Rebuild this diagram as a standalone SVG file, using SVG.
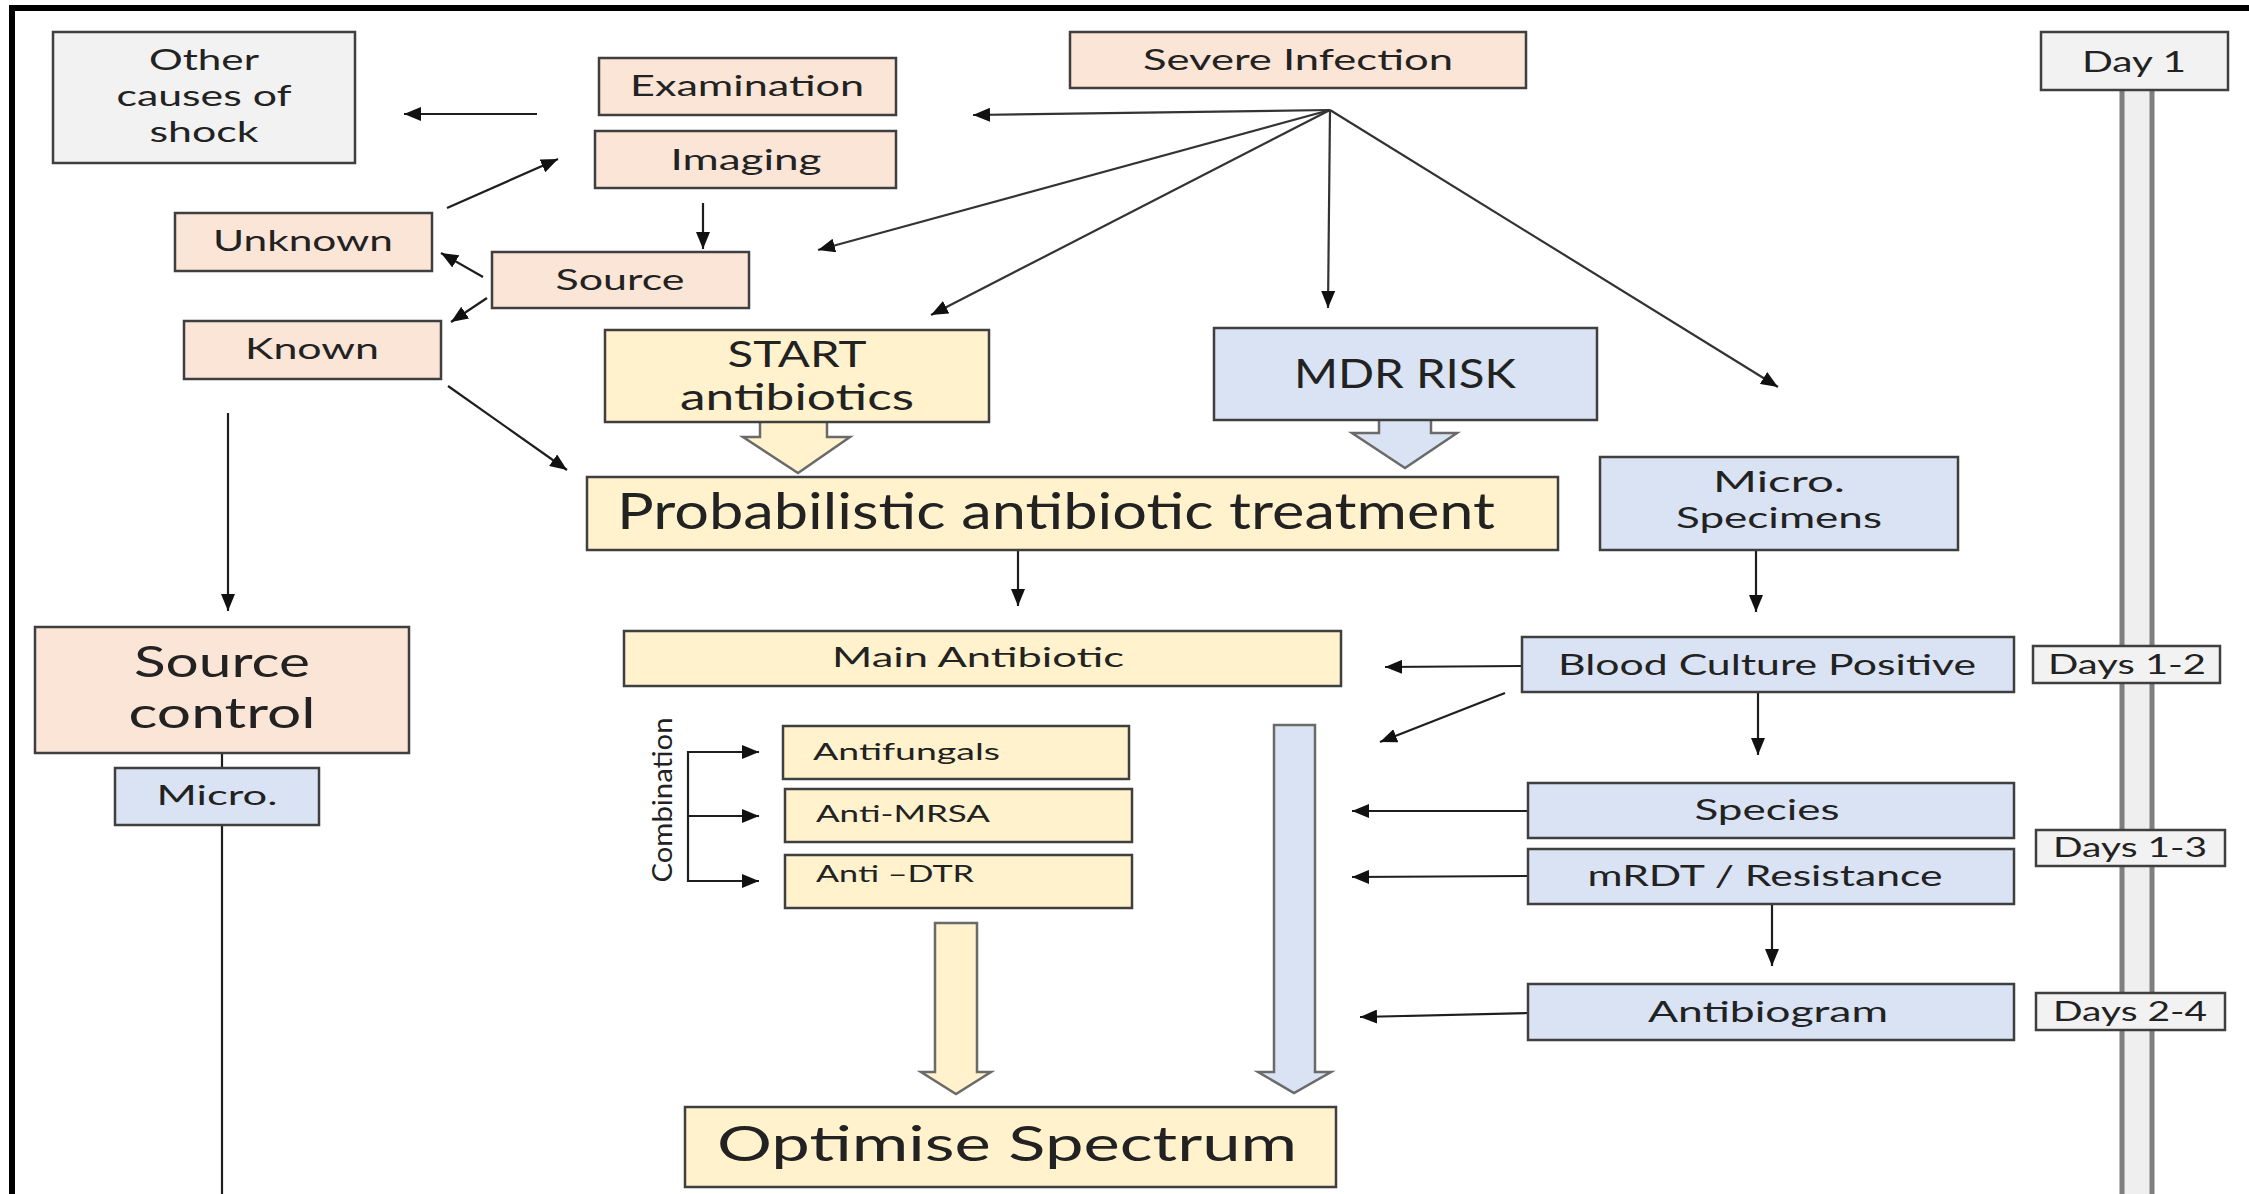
<svg xmlns="http://www.w3.org/2000/svg" width="2249" height="1194" viewBox="0 0 2249 1194">
<style>
.bx{stroke:#3f3f3f;stroke-width:2.5}
.pe{fill:#fbe5d6}.ye{fill:#fff2cc}.bl{fill:#dae3f3}.gr{fill:#f2f2f2}
text{font-family:Lato,"Open Sans","Liberation Sans",sans-serif;fill:#222;text-anchor:middle}
.c{stroke:#1e1e1e;stroke-width:2.2;fill:none;marker-end:url(#ah)}
.h{stroke:#333;stroke-width:2.2;fill:none;marker-end:url(#ah)}
.ln{stroke:#1e1e1e;stroke-width:2.2;fill:none}
.ba{stroke:#6a6a6a;stroke-width:2.5}
</style>
<defs>
<marker id="ah" markerUnits="userSpaceOnUse" markerWidth="18" markerHeight="14" refX="17" refY="7" orient="auto">
<path d="M0,0 L17,7 L0,14 z" fill="#111"/>
</marker>
</defs>
<rect width="2249" height="1194" fill="#ffffff"/>
<path d="M12,1194 V8 H2249" fill="none" stroke="#000" stroke-width="6"/>

<g id="timeline">
<rect x="2122" y="88" width="30" height="1110" fill="#efefef" stroke="#7f7f7f" stroke-width="5"/>
</g>

<g id="connectors">
<line class="c" x1="537" y1="114" x2="404" y2="114"/>
<line class="c" x1="447" y1="208" x2="558" y2="159"/>
<line class="c" x1="703" y1="203" x2="703" y2="249"/>
<line class="c" x1="483" y1="277" x2="441" y2="253"/>
<line class="c" x1="487" y1="298" x2="451" y2="322"/>
<line class="c" x1="448" y1="386" x2="567" y2="470"/>
<line class="c" x1="228" y1="413" x2="228" y2="611"/>
<line class="ln" x1="222" y1="753" x2="222" y2="768"/>
<line class="ln" x1="222" y1="825" x2="222" y2="1194"/>
<line class="h" x1="1330" y1="110" x2="973" y2="115"/>
<line class="h" x1="1330" y1="110" x2="818" y2="250"/>
<line class="h" x1="1330" y1="110" x2="931" y2="315"/>
<line class="h" x1="1330" y1="110" x2="1328" y2="308"/>
<line class="h" x1="1330" y1="110" x2="1778" y2="387"/>
<line class="c" x1="1018" y1="551" x2="1018" y2="606"/>
<line class="c" x1="1756" y1="550" x2="1756" y2="612"/>
<line class="c" x1="1522" y1="666" x2="1385" y2="667"/>
<line class="c" x1="1505" y1="693" x2="1380" y2="742"/>
<line class="c" x1="1758" y1="692" x2="1758" y2="755"/>
<line class="c" x1="1528" y1="811" x2="1352" y2="811"/>
<line class="c" x1="1528" y1="876" x2="1352" y2="877"/>
<line class="c" x1="1772" y1="904" x2="1772" y2="966"/>
<line class="c" x1="1528" y1="1013" x2="1360" y2="1017"/>
<line class="ln" x1="688" y1="751" x2="688" y2="882"/>
<line class="c" x1="687" y1="752" x2="759" y2="752"/>
<line class="c" x1="687" y1="816" x2="759" y2="816"/>
<line class="c" x1="687" y1="881" x2="759" y2="881"/>
</g>

<g id="block-arrows">
<polygon class="ba ye" points="760,412 760,437 743,437 798,473 850,437 827,437 827,412"/>
<polygon class="ba bl" points="1379,412 1379,433 1352,433 1405,468 1457,433 1431,433 1431,412"/>
<polygon class="ba ye" points="935,923 977,923 977,1072 991,1072 956,1094 921,1072 935,1072"/>
<polygon class="ba bl" points="1274,725 1315,725 1315,1072 1331,1072 1294,1093 1258,1072 1274,1072"/>
</g>

<g id="other-causes"><rect class="bx gr" x="53" y="32" width="302" height="131"/>
<text x="204" y="70" font-size="29" textLength="110" lengthAdjust="spacingAndGlyphs">Other</text>
<text x="204" y="106" font-size="29" textLength="175" lengthAdjust="spacingAndGlyphs">causes of</text>
<text x="204" y="142" font-size="29" textLength="109" lengthAdjust="spacingAndGlyphs">shock</text></g>

<g id="examination"><rect class="bx pe" x="599" y="58" width="297" height="57"/>
<text x="747" y="96" font-size="28" textLength="234" lengthAdjust="spacingAndGlyphs">Examination</text></g>

<g id="imaging"><rect class="bx pe" x="595" y="131" width="301" height="57"/>
<text x="746" y="170" font-size="28" textLength="151" lengthAdjust="spacingAndGlyphs">Imaging</text></g>

<g id="severe-infection"><rect class="bx pe" x="1070" y="32" width="456" height="56"/>
<text x="1298" y="70" font-size="28" textLength="310" lengthAdjust="spacingAndGlyphs">Severe Infection</text></g>

<g id="day1"><rect class="bx gr" x="2041" y="32" width="187" height="58"/>
<text x="2134" y="72" font-size="28" textLength="104" lengthAdjust="spacingAndGlyphs">Day 1</text></g>

<g id="unknown"><rect class="bx pe" x="175" y="213" width="257" height="58"/>
<text x="303" y="251" font-size="28" textLength="180" lengthAdjust="spacingAndGlyphs">Unknown</text></g>

<g id="source"><rect class="bx pe" x="492" y="252" width="257" height="56"/>
<text x="620" y="290" font-size="28" textLength="129" lengthAdjust="spacingAndGlyphs">Source</text></g>

<g id="known"><rect class="bx pe" x="184" y="321" width="257" height="58"/>
<text x="312" y="359" font-size="28" textLength="134" lengthAdjust="spacingAndGlyphs">Known</text></g>

<g id="start-antibiotics"><rect class="bx ye" x="605" y="330" width="384" height="92"/>
<text x="797" y="367" font-size="36" textLength="139" lengthAdjust="spacingAndGlyphs">START</text>
<text x="797" y="410" font-size="36" textLength="234" lengthAdjust="spacingAndGlyphs">antibiotics</text></g>

<g id="mdr-risk"><rect class="bx bl" x="1214" y="328" width="383" height="92"/>
<text x="1405" y="388" font-size="40" textLength="222" lengthAdjust="spacingAndGlyphs">MDR RISK</text></g>

<g id="probabilistic"><rect class="bx ye" x="587" y="477" width="971" height="73"/>
<text x="1056" y="529" font-size="50" textLength="878" lengthAdjust="spacingAndGlyphs">Probabilistic antibiotic treatment</text></g>

<g id="micro-specimens"><rect class="bx bl" x="1600" y="457" width="358" height="93"/>
<text x="1779" y="492" font-size="28" textLength="132" lengthAdjust="spacingAndGlyphs">Micro.</text>
<text x="1779" y="528" font-size="28" textLength="206" lengthAdjust="spacingAndGlyphs">Specimens</text></g>

<g id="source-control"><rect class="bx pe" x="35" y="627" width="374" height="126"/>
<text x="222" y="677" font-size="42" textLength="176" lengthAdjust="spacingAndGlyphs">Source</text>
<text x="222" y="728" font-size="42" textLength="187" lengthAdjust="spacingAndGlyphs">control</text></g>

<g id="micro-left"><rect class="bx bl" x="115" y="768" width="204" height="57"/>
<text x="217" y="805" font-size="26" textLength="121" lengthAdjust="spacingAndGlyphs">Micro.</text></g>

<g id="main-antibiotic"><rect class="bx ye" x="624" y="631" width="717" height="55"/>
<text x="978" y="667" font-size="26" textLength="292" lengthAdjust="spacingAndGlyphs">Main Antibiotic</text></g>

<g id="blood-culture"><rect class="bx bl" x="1522" y="637" width="492" height="55"/>
<text x="1767" y="675" font-size="28" textLength="418" lengthAdjust="spacingAndGlyphs">Blood Culture Positive</text></g>

<g id="days12"><rect class="bx gr" x="2033" y="646" width="187" height="37"/>
<text x="2127" y="674" font-size="26" textLength="158" lengthAdjust="spacingAndGlyphs">Days 1-2</text></g>

<g id="combination">
<text transform="translate(672,800) rotate(-90)" x="0" y="0" font-size="27" textLength="165" lengthAdjust="spacingAndGlyphs">Combination</text></g>

<g id="antifungals"><rect class="bx ye" x="783" y="726" width="346" height="53"/>
<text x="813" y="760" font-size="24" style="text-anchor:start" textLength="187" lengthAdjust="spacingAndGlyphs">Antifungals</text></g>

<g id="anti-mrsa"><rect class="bx ye" x="785" y="789" width="347" height="53"/>
<text x="816" y="822" font-size="24" style="text-anchor:start" textLength="174" lengthAdjust="spacingAndGlyphs">Anti-MRSA</text></g>

<g id="anti-dtr"><rect class="bx ye" x="785" y="855" width="347" height="53"/>
<text x="816" y="882" font-size="24" style="text-anchor:start" textLength="158" lengthAdjust="spacingAndGlyphs">Anti –DTR</text></g>

<g id="species"><rect class="bx bl" x="1528" y="783" width="486" height="55"/>
<text x="1767" y="820" font-size="28" textLength="145" lengthAdjust="spacingAndGlyphs">Species</text></g>

<g id="mrdt"><rect class="bx bl" x="1528" y="849" width="486" height="55"/>
<text x="1765" y="886" font-size="28" textLength="355" lengthAdjust="spacingAndGlyphs">mRDT / Resistance</text></g>

<g id="days13"><rect class="bx gr" x="2036" y="830" width="189" height="36"/>
<text x="2130" y="857" font-size="26" textLength="154" lengthAdjust="spacingAndGlyphs">Days 1-3</text></g>

<g id="antibiogram"><rect class="bx bl" x="1528" y="984" width="486" height="56"/>
<text x="1768" y="1022" font-size="28" textLength="240" lengthAdjust="spacingAndGlyphs">Antibiogram</text></g>

<g id="days24"><rect class="bx gr" x="2036" y="993" width="189" height="37"/>
<text x="2130" y="1021" font-size="26" textLength="154" lengthAdjust="spacingAndGlyphs">Days 2-4</text></g>

<g id="optimise"><rect class="bx ye" x="685" y="1107" width="651" height="80"/>
<text x="1007" y="1161" font-size="48" textLength="580" lengthAdjust="spacingAndGlyphs">Optimise Spectrum</text></g>
</svg>
